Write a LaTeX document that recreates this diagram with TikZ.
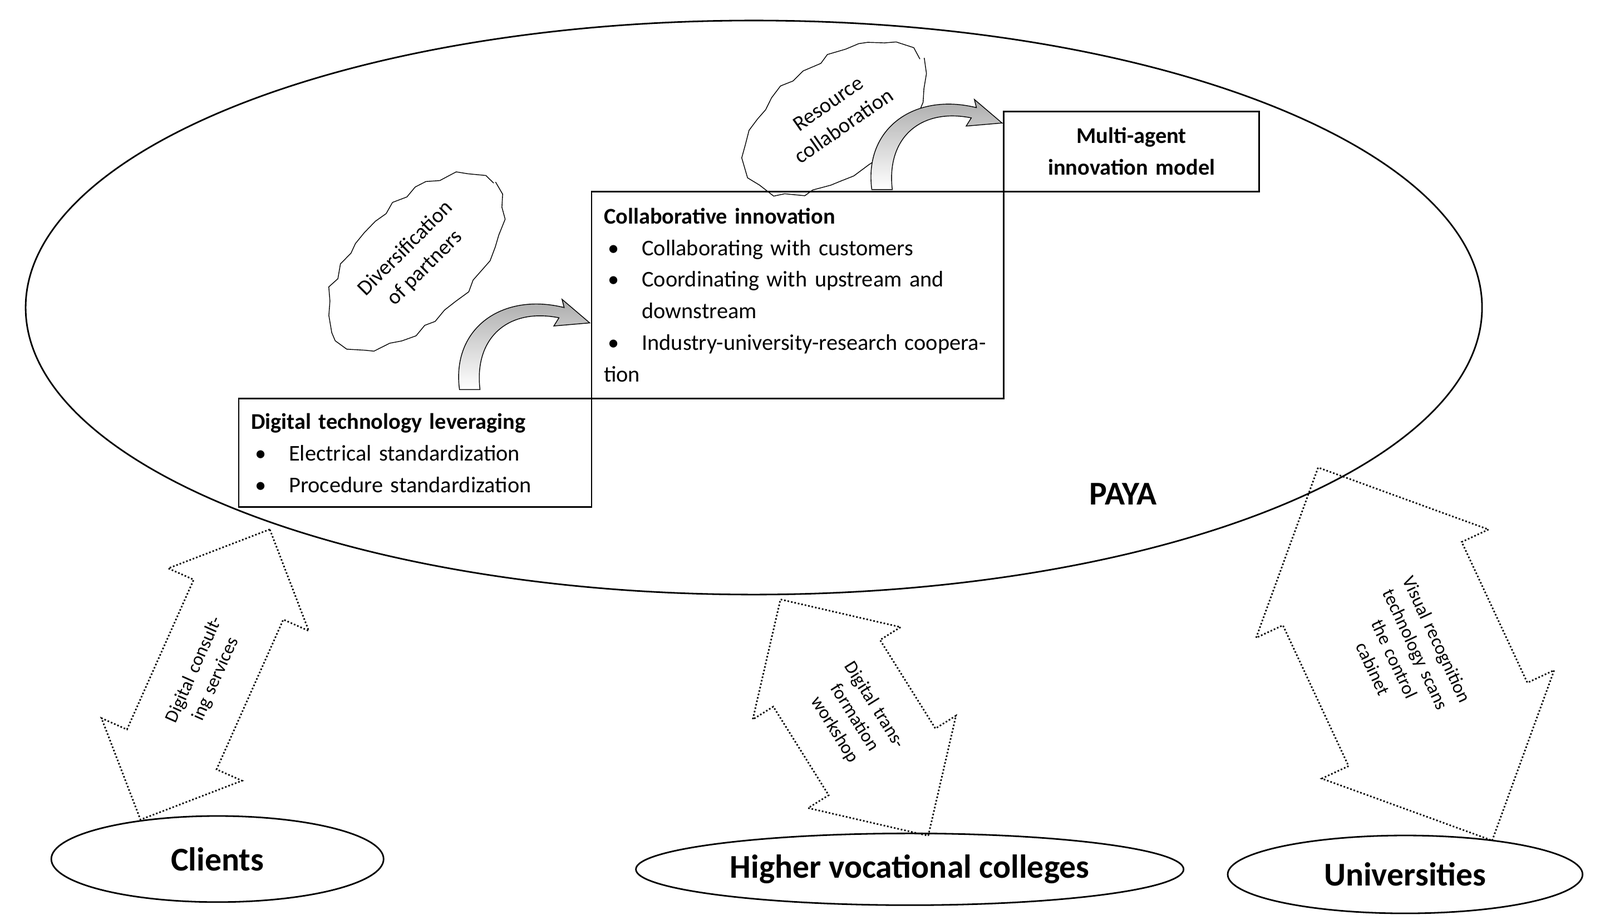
\documentclass[tikz,border=0pt]{standalone}
\usepackage{fontspec}
\setmainfont{Carlito}
\usetikzlibrary{shapes.arrows,decorations.pathmorphing,shapes.geometric}
\newlength\pu \setlength\pu{0.01843cm}
\newcommand\bitem[1]{\par\hangindent=37\pu\hangafter=1\noindent\makebox[37\pu][l]{\hspace{4\pu}\textbullet}#1}
\begin{document}
\begin{tikzpicture}[x=1\pu,y=-1\pu,
 box/.style={draw,thick,anchor=north west,inner xsep=12\pu,inner ysep=4\pu,align=left,font=\fontsize{11.5}{16.2}\selectfont},
 cloud/.style={draw,decorate,decoration={random steps,segment length=7pt,amplitude=1.6pt}},
 darr/.style={double arrow,draw,densely dotted,thick,align=center,font=\fontsize{9.5}{12}\selectfont,inner sep=2pt},
 lab/.style={draw,ellipse,thick,font=\bfseries\fontsize{17}{20}\selectfont},
 pics/carrow/.style={code={
  \draw[left color=gray!70,right color=white,shading angle=0]
   (-10,0) .. controls (-18,-60) and (32,-95) .. (92,-80) -- (90,-88) -- (117,-65) -- (82,-62) -- (87,-70)
   .. controls (37,-80) and (4,-50) .. (10,0) -- cycle;}}]
\useasboundingbox (0,0) rectangle (1560,897);
\node[draw,ellipse,thick,minimum width=1420\pu,minimum height=560\pu] (paya) at (735,300) {};
\node[font=\bfseries\fontsize{17}{20}\selectfont] (payat) at (1095,482) {PAYA};
% boxes
\node[box,minimum width=249\pu,minimum height=78\pu,align=center,text width=225\pu] (multi) at (978,108) {\textbf{Multi-agent}\\\textbf{innovation model}};
\node[box,minimum width=402\pu,minimum height=202\pu,text width=378\pu] (collab) at (576,186)
 {\textbf{Collaborative innovation}\bitem{Collaborating with customers}\bitem{Coordinating with upstream and downstream}\bitem{Industry-university-research cooperation}};
\node[box,minimum width=344\pu,minimum height=106\pu,text width=320\pu] (digit) at (232,388)
 {\textbf{Digital technology leveraging}\bitem{Electrical standardization}\bitem{Procedure standardization}};
% clouds
\draw[cloud,rotate around={35:(815,115)}] (815,115) ellipse [x radius=100,y radius=-55];
\node[rotate=35,align=center,font=\fontsize{11}{14}\selectfont] (c1) at (815,112) {Resource\\collaboration};
\draw[cloud,rotate around={45:(405,255)}] (405,255) ellipse [x radius=108,y radius=-55];
\node[rotate=45,align=center,font=\fontsize{11}{14}\selectfont] (c2) at (405,252) {Diversification\\of partners};
% curved arrows
\pic at (458,380) {carrow};
\pic at (860,185) {carrow};
% bottom labels
\node[lab,minimum width=324\pu,minimum height=84\pu] (clients) at (212,838) {Clients};
\node[lab,minimum width=534\pu,minimum height=70\pu] (hvc) at (887,848) {Higher vocational colleges};
\node[lab,minimum width=346\pu,minimum height=76\pu] (univ) at (1370,853) {Universities};
% double arrows
\node[darr,rotate=66,minimum height=310\pu,minimum width=150\pu,text width=190\pu] (a1) at (200,658) {Digital consulting services};
\node[darr,rotate=-58,minimum height=265\pu,minimum width=170\pu,text width=140\pu] (a2) at (833,700) {Digital transformation\\workshop};
\node[darr,rotate=-65,minimum height=376\pu,minimum width=250\pu,text width=200\pu] (a3) at (1370,638) {Visual recognition\\technology scans the control\\cabinet};
\end{tikzpicture}
\end{document}
